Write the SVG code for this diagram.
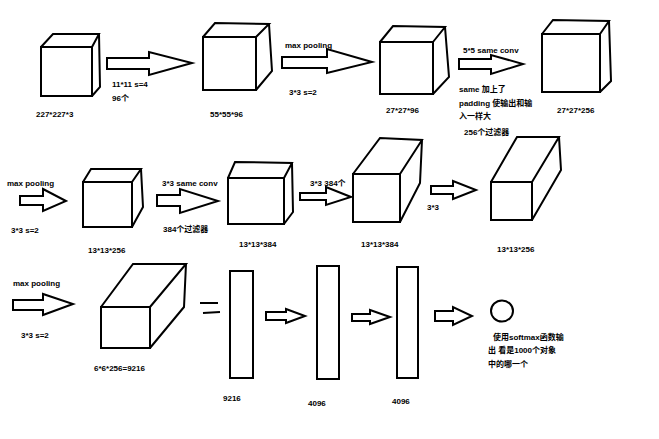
<svg xmlns="http://www.w3.org/2000/svg" width="659" height="439" viewBox="0 0 659 439">
<style>
.s{fill:none;stroke:#000;stroke-width:2;stroke-linejoin:miter}
.a{fill:#fff;stroke:#000;stroke-width:2;stroke-linejoin:miter}
text{font-family:"Liberation Sans","Noto Sans CJK SC",sans-serif;font-size:8px;font-weight:bold;fill:#000}
</style>
<rect width="659" height="439" fill="#fff"/>
<g id="cube1"><rect class="s" x="41" y="47" width="51" height="49"/><path class="s" d="M41,47 L53,34 L99,34 L92,47 M99,34 L100,87 L92,96"/><text x="36" y="117">227*227*3</text></g>
<g id="cube2"><rect class="s" x="203" y="37" width="53" height="53"/><path class="s" d="M203,37 L215,23 L269,24 L256,37 M269,24 L272,71 L256,90"/><text x="210" y="117">55*55*96</text></g>
<g id="cube3"><rect class="s" x="380" y="42" width="53" height="52"/><path class="s" d="M380,42 L393,26 L445,27 L433,42 M445,27 L449,77 L433,94"/><text x="386" y="113">27*27*96</text></g>
<g id="cube4"><rect class="s" x="542" y="34" width="58" height="58"/><path class="s" d="M542,34 L553,20 L609,21 L600,34 M609,21 L611,81 L600,92"/><text x="557" y="113">27*27*256</text></g>
<g id="cube5"><rect class="s" x="83" y="182" width="49" height="45"/><path class="s" d="M83,182 L91,169 L141,169 L132,182 M141,169 L143,207 L132,227"/><text x="88" y="253">13*13*256</text></g>
<g id="cube6"><rect class="s" x="228" y="178" width="56" height="46"/><path class="s" d="M228,178 L235,162 L292,163 L284,178 M292,163 L293,212 L284,224"/><text x="239" y="247">13*13*384</text></g>
<g id="cube7"><rect class="s" x="353" y="174" width="47" height="48"/><path class="s" d="M353,174 L380,138 L422,140 L400,174 M422,140 L420,183 L400,222"/><text x="361" y="247">13*13*384</text></g>
<g id="cube8"><rect class="s" x="491" y="182" width="41" height="38"/><path class="s" d="M491,182 L517,137 L559,137 L532,182 M559,137 L561,170 L532,220"/><text x="497" y="252">13*13*256</text></g>
<g id="cube9"><rect class="s" x="101" y="307" width="49" height="41"/><path class="s" d="M101,307 L133,264 L186,264 L150,307 M186,264 L184,307 L150,348"/><text x="94" y="371">6*6*256=9216</text></g>
<g id="equals"><path class="s" d="M200,303 L218,303 M203,313 L220,312"/></g>
<g id="fc9216"><rect class="s" x="230" y="271" width="23" height="107"/><text x="223" y="401">9216</text></g>
<g id="fc4096a"><rect class="s" x="317" y="266" width="22" height="113"/><text x="308" y="406">4096</text></g>
<g id="fc4096b"><rect class="s" x="397" y="267" width="21" height="111"/><text x="392" y="404">4096</text></g>
<g id="softmax"><ellipse class="s" cx="502" cy="311" rx="11" ry="10.5"/><text x="493" y="340">使用softmax函数输</text><text x="488" y="353">出 看是1000个对象</text><text x="488" y="367">中的哪一个</text></g>
<g id="connectors">
<polygon class="a" points="107,58 149,58 149,52 192,63 149,75 149,69 107,69"/>
<polygon class="a" points="282,57 327,57 327,49 372,62 327,73 327,68 282,68"/>
<polygon class="a" points="459,59 491,59 491,55 523,64 491,74 491,69 459,69"/>
<polygon class="a" points="20,196 43,196 43,189 66,201 43,211 43,205 20,205"/>
<polygon class="a" points="157,195 180,195 180,189 218,201 180,213 180,206 157,206"/>
<polygon class="a" points="300,193 326,193 326,187 351,197 326,205 326,200 300,200"/>
<polygon class="a" points="431,186 453,186 453,181 476,190 453,199 453,194 431,194"/>
<polygon class="a" points="13,300 43,300 43,294 73,304 43,315 43,310 13,310"/>
<polygon class="a" points="266,312 286,312 286,309 305,316 286,323 286,320 266,320"/>
<polygon class="a" points="352,314 370,314 370,310 390,317 370,324 370,321 352,321"/>
<polygon class="a" points="435,311 453,311 453,307 472,316 453,325 453,321 435,321"/>
</g>
<g id="labels">
<text x="112" y="87">11*11 s=4</text>
<text x="112" y="101">96个</text>
<text x="285" y="48">max pooling</text>
<text x="289" y="95">3*3 s=2</text>
<text x="463" y="53">5*5 same conv</text>
<text x="459" y="92">same 加上了</text>
<text x="459" y="106">padding 使输出和输</text>
<text x="459" y="119">入一样大</text>
<text x="464" y="135">256个过滤器</text>
<text x="7" y="186">max pooling</text>
<text x="11" y="233">3*3 s=2</text>
<text x="162" y="186">3*3 same conv</text>
<text x="163" y="232">384个过滤器</text>
<text x="310" y="186">3*3 384个</text>
<text x="427" y="210">3*3</text>
<text x="13" y="286">max pooling</text>
<text x="21" y="338">3*3 s=2</text>
</g>
</svg>
